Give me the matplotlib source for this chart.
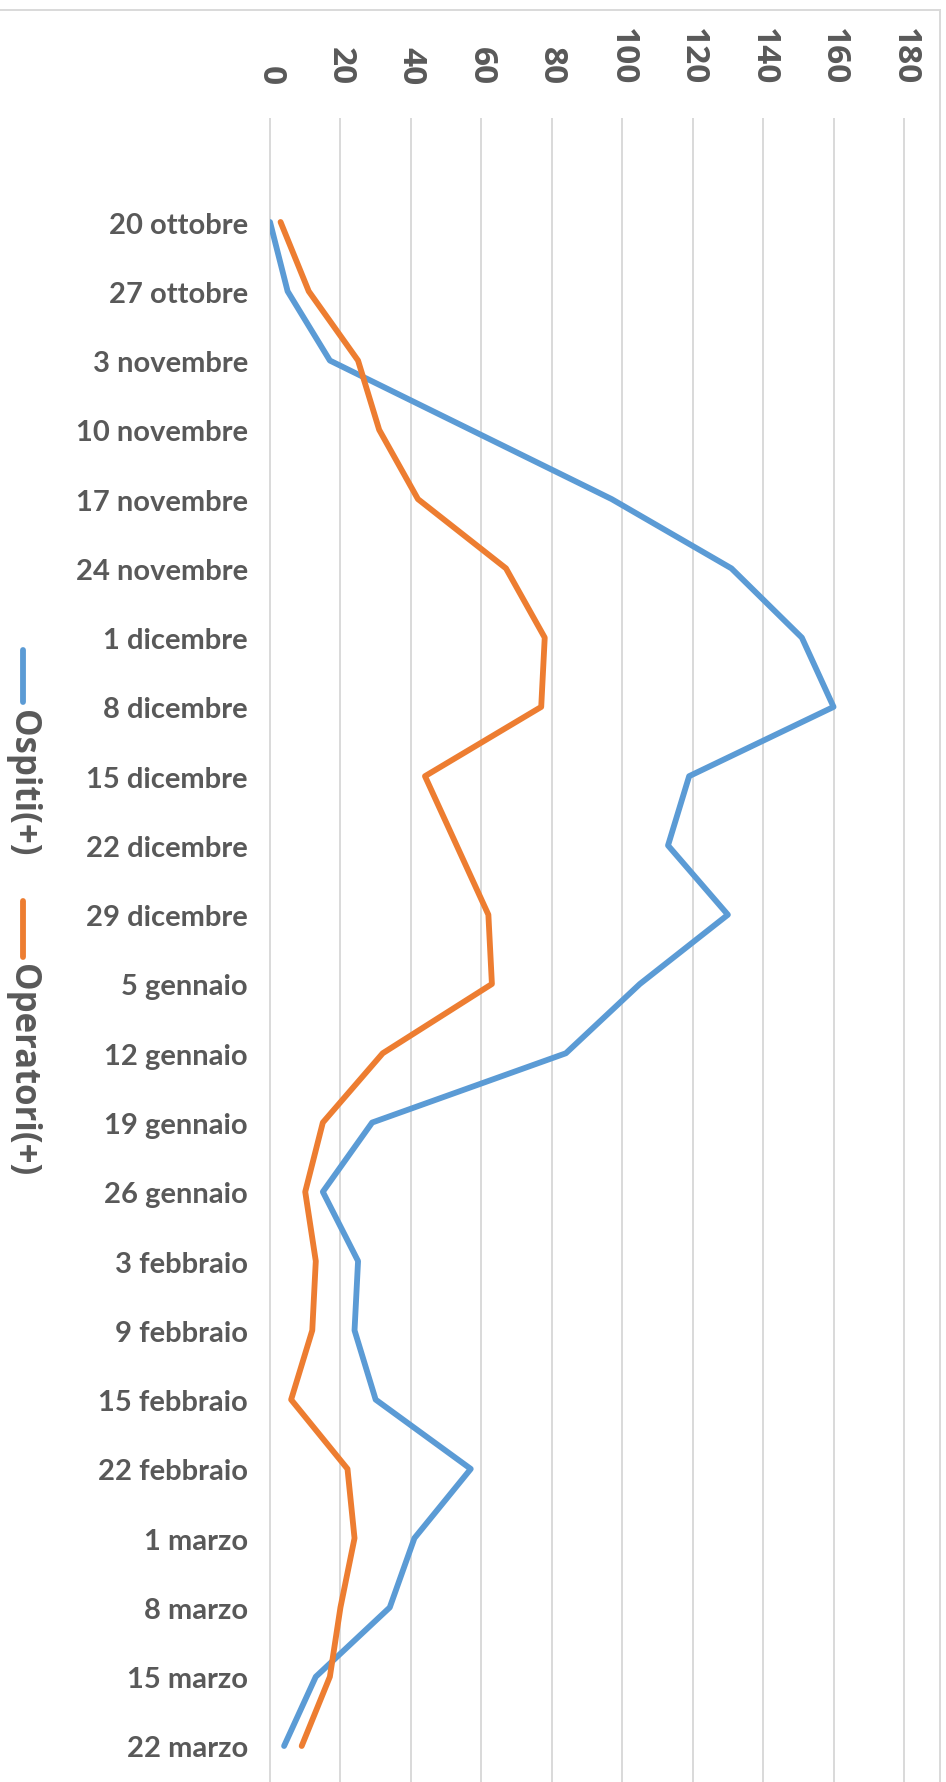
import matplotlib
matplotlib.use("Agg")
import matplotlib.pyplot as plt
from matplotlib.lines import Line2D
from matplotlib.patches import Rectangle

# weekly new positives
settimane = ["20 ottobre", "27 ottobre", "3 novembre", "10 novembre", "17 novembre",
             "24 novembre", "1 dicembre", "8 dicembre", "15 dicembre", "22 dicembre",
             "29 dicembre", "5 gennaio", "12 gennaio", "19 gennaio", "26 gennaio",
             "3 febbraio", "9 febbraio", "15 febbraio", "22 febbraio", "1 marzo",
             "8 marzo", "15 marzo", "22 marzo"]
ospiti = [0, 5, 17, 57, 97, 131, 151, 160, 119, 113, 130, 105, 84, 29, 15,
          25, 24, 30, 57, 41, 34, 13, 4]
operatori = [3, 11, 25, 31, 42, 67, 78, 77, 44, 53, 62, 63, 32, 15, 10,
             13, 12, 6, 22, 24, 20, 17, 9]
valori_asse = [0, 20, 40, 60, 80, 100, 120, 140, 160, 180]

BLU = "#5B9BD5"
ARANCIO = "#ED7D31"
GRIGIO = "#595959"
GRIGLIA = "#D9D9D9"

W, H = 946, 1783
fig = plt.figure(figsize=(W / 100, H / 100), dpi=100)

# plot area in pixels
x0, x1 = 270, 904
ytop = 120
ax = fig.add_axes([x0 / W, 0, (x1 - x0) / W, 1 - ytop / H])

pos = list(range(len(settimane)))
ax.plot(ospiti, pos, color=BLU, lw=4.2, solid_capstyle="round", solid_joinstyle="round")
ax.plot(operatori, pos, color=ARANCIO, lw=4.2, solid_capstyle="round", solid_joinstyle="round")

step = (1747 - 223) / 22
ax.set_ylim((H - 223) / step, -(223 - ytop) / step)
ax.set_xlim(valori_asse[0], valori_asse[-1])

for s in ax.spines.values():
    s.set_visible(False)

ax.xaxis.tick_top()
ax.set_xticks(valori_asse)
ax.set_xticklabels([str(v) for v in valori_asse], rotation=-90, fontsize=24,
                   fontweight="bold", color=GRIGIO, family="Open Sans")
ax.tick_params(axis="x", length=0, pad=25)
ax.xaxis.grid(True, color=GRIGLIA, lw=1.4)
for gl in ax.get_xgridlines():
    gl.set_clip_on(False)
ax.set_axisbelow(True)

ax.set_yticks(pos)
ax.set_yticklabels(settimane, fontsize=21, fontweight="bold", color=GRIGIO, family="Lato")
ax.tick_params(axis="y", length=0, pad=16)

# legend along the left edge, text running top to bottom
def voce(y_linea, y_testo, colore, testo):
    fig.add_artist(Line2D([22.7 / W, 22.7 / W], [1 - y_linea[0] / H, 1 - y_linea[1] / H],
                          color=colore, lw=4.2, solid_capstyle="round"))
    fig.text(22 / W, 1 - y_testo / H, testo, rotation=-90, ha="center", va="top",
             fontsize=25, fontweight="bold", color=GRIGIO, family="Open Sans")

voce((651, 703), 710, BLU, "Ospiti(+)")
voce((902, 958), 964, ARANCIO, "Operatori(+)")

# chart frame
fig.add_artist(Rectangle((-2 / W, -0.01), 942 / W, 1 - 11 / H + 0.01,
                         transform=fig.transFigure, fill=False, edgecolor=GRIGLIA, lw=1.4))

fig.savefig("out.png", dpi=100)
